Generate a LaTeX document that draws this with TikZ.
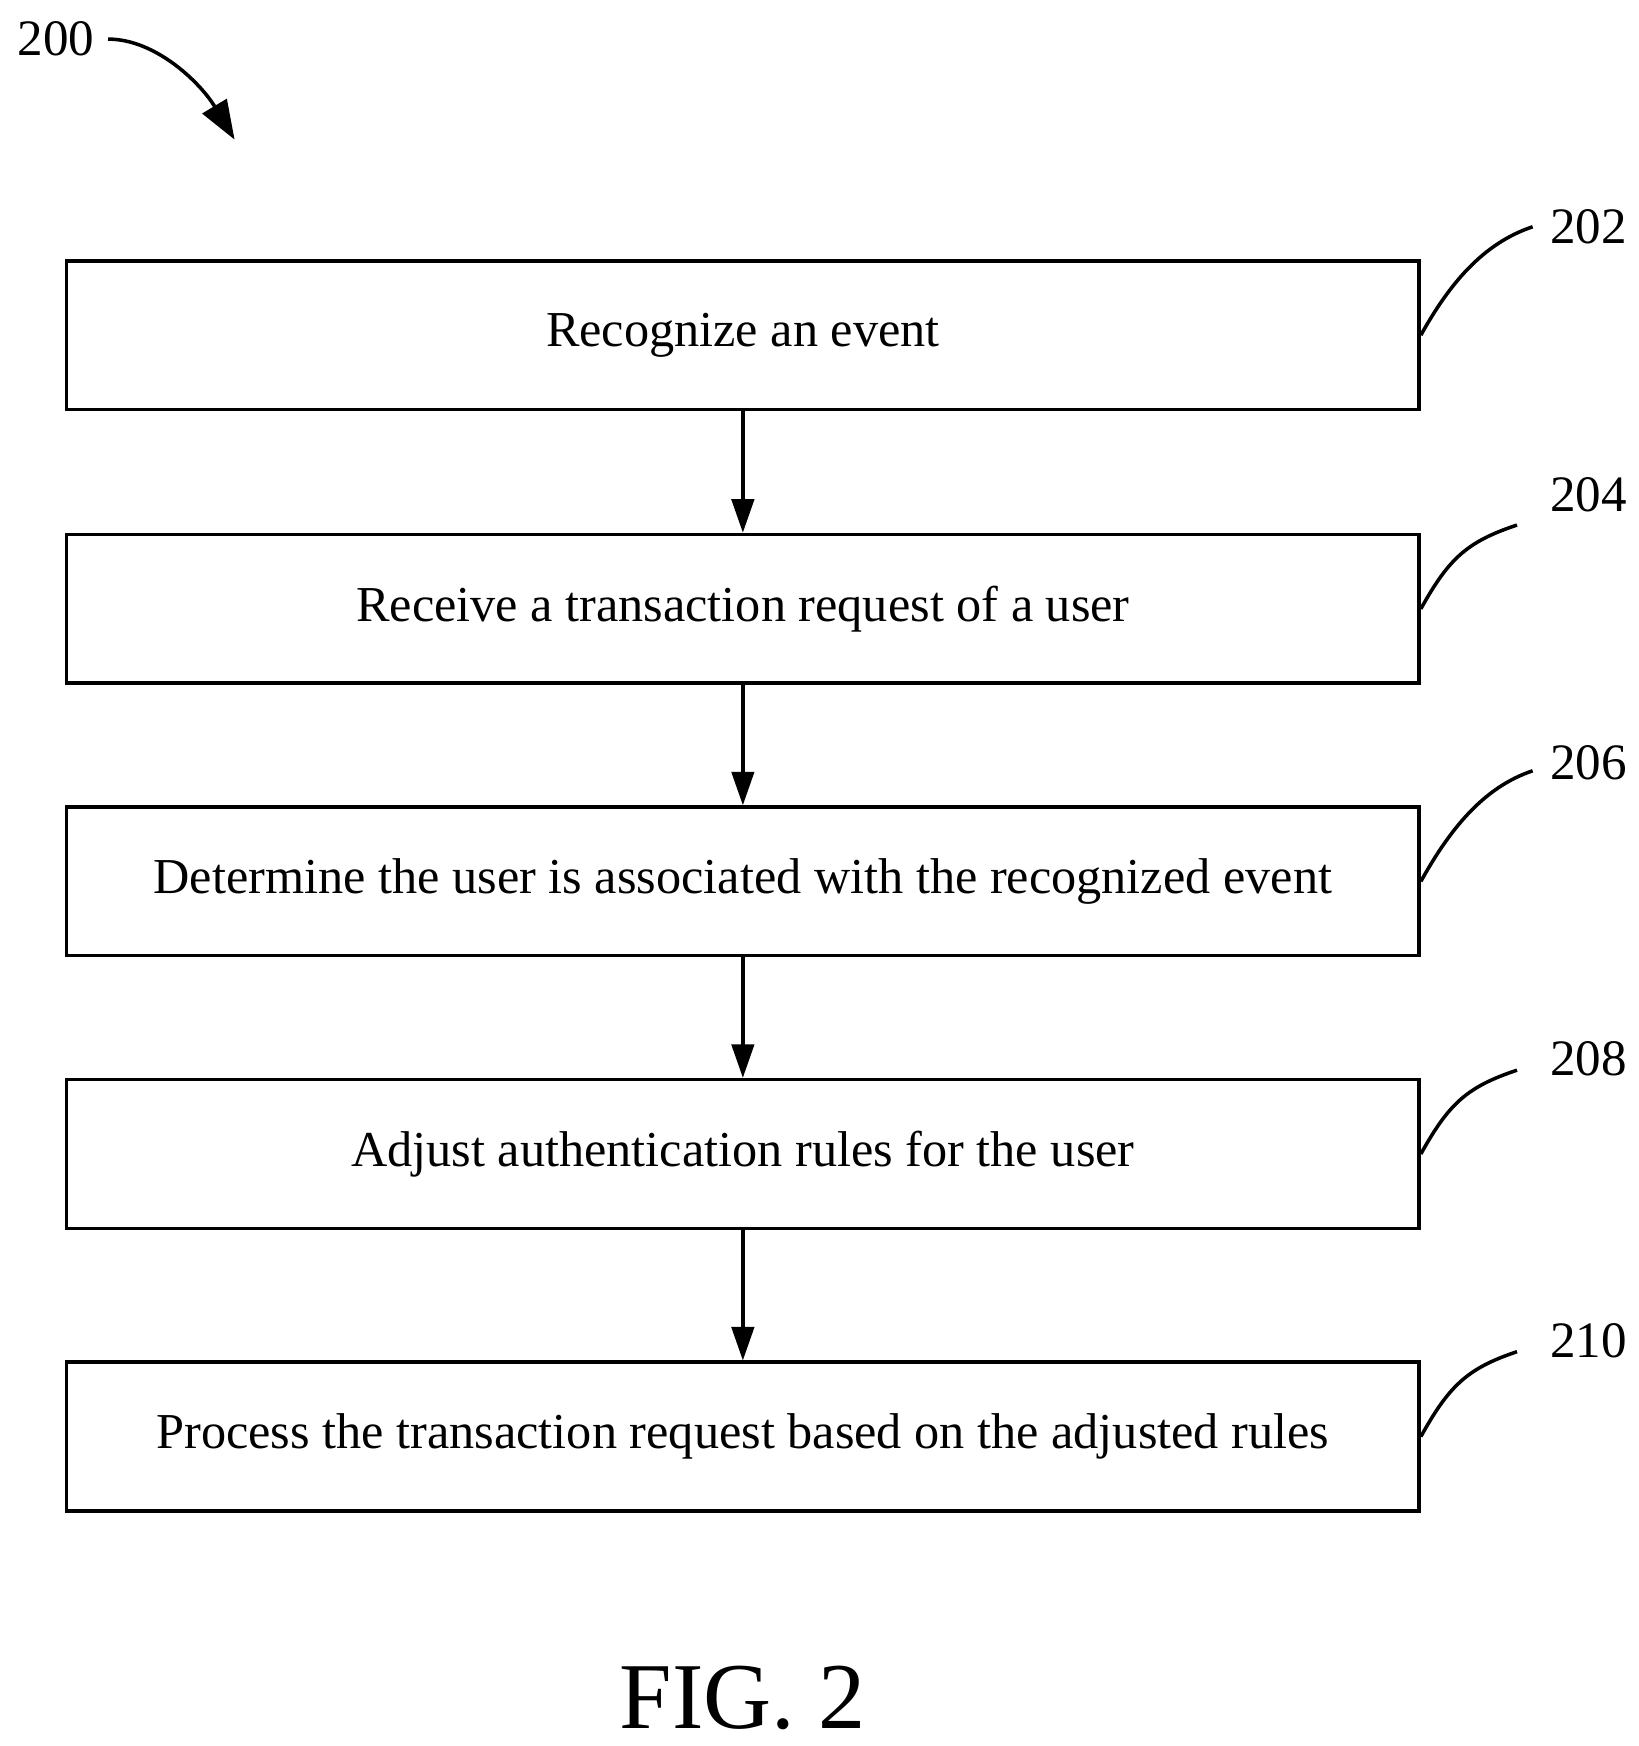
\documentclass[tikz,border=0pt]{standalone}
\usepackage{fontspec}
\setmainfont{Liberation Serif}
\usetikzlibrary{arrows.meta}
\begin{document}
\begin{tikzpicture}[x=0.01cm,y=-0.01cm,
 box/.style={draw,line width=0.9pt,minimum width=12.10cm,minimum height=1.33cm,font=\fontsize{12.8}{14}\selectfont},
 lab/.style={font=\fontsize{13}{15}\selectfont},
 arr/.style={line width=0.9pt,-{Triangle[length=0.3cm,width=0.2cm]}},
 lead/.style={line width=0.9pt}]
\useasboundingbox (0,0) rectangle (1467,1563);
\node[box] (b1) at (665,300) {Recognize an event};
\node[box] (b2) at (665,545) {Receive a transaction request of a user};
\node[box] (b3) at (665,789) {Determine the user is associated with the recognized event};
\node[box] (b4) at (665,1033) {Adjust authentication rules for the user};
\node[box] (b5) at (665,1286) {Process the transaction request based on the adjusted rules};
\foreach \a/\b in {b1/b2,b2/b3,b3/b4,b4/b5} \draw[arr] (\a) -- (\b);
\foreach \b/\t/\y/\cx/\cy in {b1/202/203/1372/203,b2/204/443/1358/470,b3/206/683/1372/690,b4/208/948/1358/958,b5/210/1200/1358/1210}{
 \node[lab] (l\t) at (1422,\y) {\t};
 \coordinate (c\t) at (\cx,\cy);
 \draw[lead] (\b.east) .. controls +(25,-45) and +(-45,15) .. (c\t);
}
\node[lab] (l200) at (50,35) {200};
\coordinate (e200) at (210,125);
\draw[line width=0.9pt,-{Triangle[length=0.35cm,width=0.25cm]}] (l200.east) .. controls (140,35) and (180,75) .. (e200);
\node[font=\fontsize{24}{28}\selectfont] (fig) at (665,1520) {FIG. 2};
\end{tikzpicture}
\end{document}
